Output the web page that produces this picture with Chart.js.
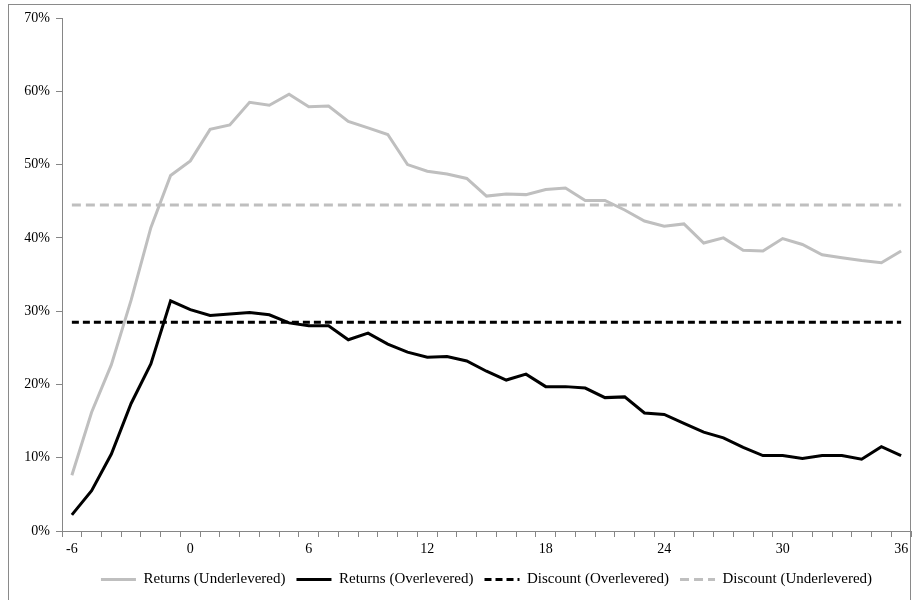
<!DOCTYPE html>
<html>
<head>
<meta charset="utf-8">
<script src="https://cdn.jsdelivr.net/npm/chart.js@4.4.1/dist/chart.umd.min.js"></script>
<style>
  html, body { margin: 0; padding: 0; background: #fff; }
  #wrap { position: relative; width: 914px; height: 600px; overflow: hidden; }
  #frame { position: absolute; left: 8px; top: 4px; width: 903px; height: 700px; border: 1px solid #8a8a8a; box-sizing: border-box; }
  canvas { position: absolute; left: 0; top: 0; }
</style>
</head>
<body>
<div id="wrap">
  <div id="frame"></div>
  <canvas id="c" width="914" height="600"></canvas>
</div>
<script>
// Months relative to the event, -6 .. 36
const months = [-6, -5, -4, -3, -2, -1, 0, 1, 2, 3, 4, 5, 6, 7, 8, 9, 10, 11, 12,
  13, 14, 15, 16, 17, 18, 19, 20, 21, 22, 23, 24, 25, 26, 27, 28, 29, 30, 31, 32,
  33, 34, 35, 36];

// Cumulative returns, percent
const returnsUnderlevered = [7.6, 16.2, 22.7, 31.5, 41.4, 48.5, 50.5, 54.8, 55.4, 58.5,
  58.1, 59.6, 57.9, 58.0, 55.9, 55.0, 54.1, 50.0, 49.1, 48.7, 48.1, 45.7, 46.0, 45.9,
  46.6, 46.8, 45.1, 45.1, 43.8, 42.3, 41.6, 41.9, 39.3, 40.0, 38.3, 38.2, 39.9, 39.1,
  37.7, 37.3, 36.9, 36.6, 38.2];

const returnsOverlevered = [2.2, 5.5, 10.5, 17.4, 22.8, 31.4, 30.2, 29.4, 29.6, 29.8,
  29.5, 28.4, 28.0, 28.0, 26.1, 27.0, 25.5, 24.4, 23.7, 23.8, 23.2, 21.8, 20.6, 21.4,
  19.7, 19.7, 19.5, 18.2, 18.3, 16.1, 15.9, 14.7, 13.5, 12.7, 11.4, 10.3, 10.3, 9.9,
  10.3, 10.3, 9.8, 11.5, 10.3];

// Discount levels, percent (flat reference lines)
const discountOverlevered = 28.5;
const discountUnderlevered = 44.5;

// Labelled months on the x axis and y tick values
const xLabelMonths = [-6, 0, 6, 12, 18, 24, 30, 36];
const yTicks = [0, 10, 20, 30, 40, 50, 60, 70];

const GREY = '#bfbfbf';
const AXIS = '#868686';
const SERIF = '"Liberation Serif", "Times New Roman", serif';
const TICK_FONT = { family: SERIF, size: 14 };
const LEGEND_FONT = { family: SERIF, size: 15 };
const LINE_WIDTH = 3;

const lineBase = { pointRadius: 0, pointHoverRadius: 0, tension: 0, fill: false, borderWidth: LINE_WIDTH };

// Centre the legend under the plot area rather than the whole canvas
const legendUnderPlot = {
  id: 'legendUnderPlot',
  afterLayout(chart) {
    const lg = chart.legend, ca = chart.chartArea;
    if (!lg || !ca) return;
    lg.left = ca.left;
    lg.right = ca.right;
    lg.width = ca.right - ca.left;
  }
};

new Chart(document.getElementById('c'), {
  type: 'line',
  plugins: [legendUnderPlot],
  data: {
    labels: months,
    datasets: [
      Object.assign({}, lineBase, {
        label: 'Returns (Underlevered)', data: returnsUnderlevered,
        borderColor: GREY, backgroundColor: GREY
      }),
      Object.assign({}, lineBase, {
        label: 'Returns (Overlevered)', data: returnsOverlevered,
        borderColor: '#000', backgroundColor: '#000'
      }),
      Object.assign({}, lineBase, {
        label: 'Discount (Overlevered)', data: months.map(() => discountOverlevered),
        borderColor: '#000', backgroundColor: '#000', borderDash: [7, 4]
      }),
      Object.assign({}, lineBase, {
        label: 'Discount (Underlevered)', data: months.map(() => discountUnderlevered),
        borderColor: GREY, backgroundColor: GREY, borderDash: [9, 5]
      })
    ]
  },
  options: {
    responsive: false,
    animation: false,
    events: [],
    layout: { padding: { top: 18, right: 3, left: 0, bottom: 3 } },
    plugins: {
      title: { display: false },
      tooltip: { enabled: false },
      legend: {
        position: 'bottom',
        labels: {
          usePointStyle: true,
          pointStyle: 'line',
          pointStyleWidth: 35,
          boxHeight: 15,
          padding: 11,
          color: '#000',
          font: LEGEND_FONT,
          // line samples carry each dataset's own colour and dash pattern
          generateLabels(chart) {
            const items = Chart.defaults.plugins.legend.labels.generateLabels(chart);
            items.forEach(it => {
              const ds = chart.data.datasets[it.datasetIndex];
              it.lineDash = ds.borderDash || [];
              it.lineWidth = LINE_WIDTH;
              it.strokeStyle = ds.borderColor;
              it.pointStyle = 'line';
            });
            return items;
          }
        }
      }
    },
    scales: {
      x: {
        type: 'category',
        offset: true,
        grid: { display: true, offset: true, drawOnChartArea: false, drawTicks: true, tickLength: 6, color: AXIS },
        border: { display: true, color: AXIS, width: 1 },
        ticks: {
          autoSkip: false, maxRotation: 0, minRotation: 0, padding: 4, color: '#000', font: TICK_FONT,
          callback: function (v, i) {
            const m = months[i];
            return xLabelMonths.includes(m) ? String(m) : '';
          }
        },
        afterFit: function (s) { s.height = 30; }
      },
      y: {
        min: 0, max: 70,
        afterBuildTicks: function (s) { s.ticks = yTicks.map(v => ({ value: v })); },
        grid: { display: true, drawOnChartArea: false, drawTicks: true, tickLength: 6, color: AXIS },
        border: { display: true, color: AXIS, width: 1 },
        ticks: { padding: 6, color: '#000', font: TICK_FONT, callback: v => v + '%' },
        afterFit: function (s) { s.width = 62; }
      }
    }
  }
});
</script>
</body>
</html>
